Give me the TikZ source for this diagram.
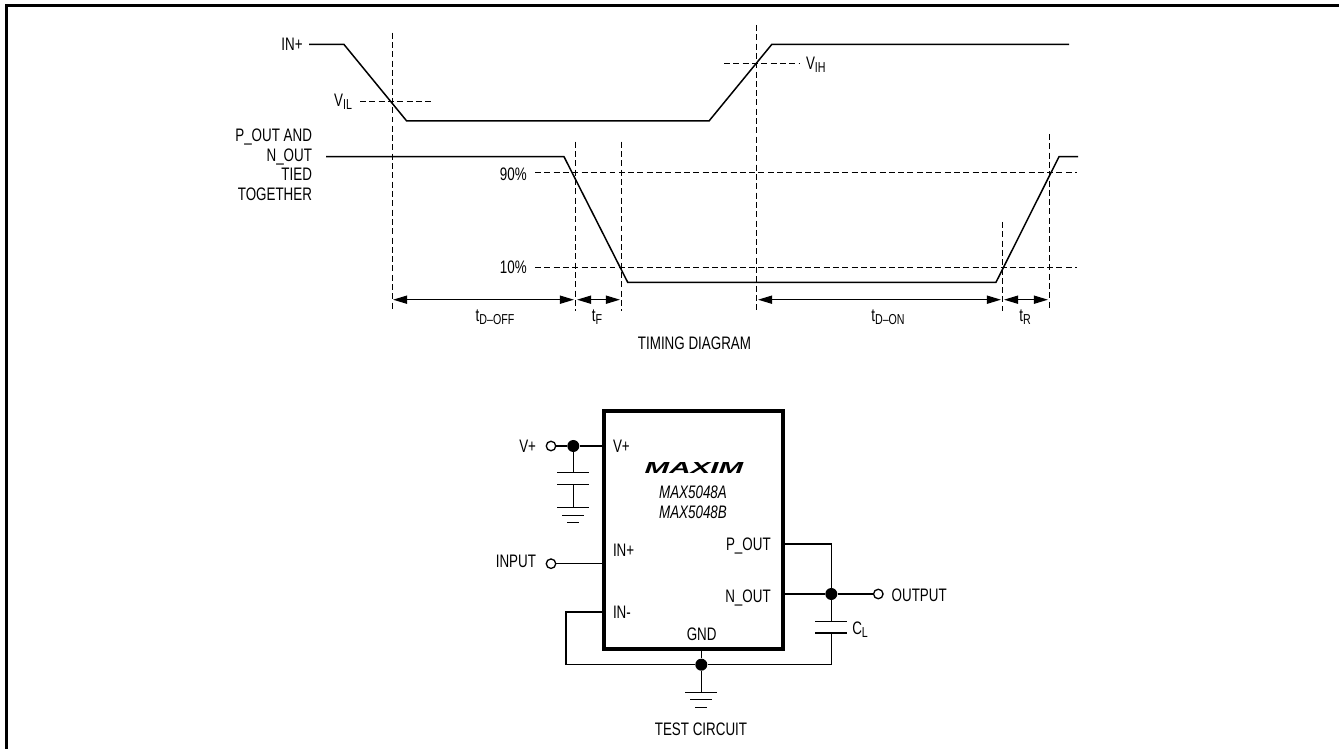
\documentclass[tikz,border=0pt]{standalone}
\usepackage{fontspec}
\setmainfont[FakeStretch=0.74]{Liberation Sans}
\newfontfamily\logofont{Liberation Sans}
\usetikzlibrary{arrows.meta}

\newcommand{\lowtext}[1]{\raisebox{-0.3ex}{\fontsize{8.2}{9}\selectfont #1}}

\tikzset{
	wave/.style={draw=black, line width=0.85pt, line join=miter},
	wire/.style={draw=black, line width=0.75pt},
	guide/.style={draw=black, line width=0.5pt, dash pattern=on 3.4pt off 1.9pt},
	dimline/.style={draw=black, line width=0.75pt, {Triangle[length=8pt,width=4.6pt]}-{Triangle[length=8pt,width=4.6pt]}},
	lbl/.style={inner sep=0pt, outer sep=0pt, text=black, font=\fontsize{10.3}{11}\selectfont, text height=7.3pt, text depth=0pt},
	terminal/.style={circle, draw=black, fill=white, line width=0.75pt, inner sep=0pt, minimum size=0.19cm},
	junction/.style={circle, fill=black, inner sep=0pt, minimum size=0.24cm}
}

\begin{document}
\begin{tikzpicture}[x=0.02cm, y=-0.02cm]
	\useasboundingbox (0,0) rectangle (1339,749);
	\draw[draw=black, line width=1.2pt] (6.5,749) -- (6.5,5.5) -- (1339,5.5);

	\draw[guide] (392,32.7) -- (392,310.7);
	\draw[guide] (575,141.7) -- (575,310.7);
	\draw[guide] (621.3,141.7) -- (621.3,310.7);
	\draw[guide] (756.7,25) -- (756.7,310.7);
	\draw[guide] (1002.3,222) -- (1002.3,310.7);
	\draw[guide] (1049.3,134) -- (1049.3,310.7);
	\draw[guide] (360,101) -- (434,101);
	\draw[guide] (724,63.7) -- (799,63.7);
	\draw[guide] (535,172.7) -- (1076.7,172.7);
	\draw[guide] (535,267) -- (1076.7,267);

	\draw[wave] (309,44.5) -- (344,44.5) -- (406.7,121) -- (709,121) -- (771.7,44.5) -- (1069,44.5);
	\draw[wave] (326,156.7) -- (564,156.7) -- (627.7,282.3) -- (996,282.3) -- (1059,156.7) -- (1078,156.7);

	\coordinate (doffa) at (393,299.7);
	\coordinate (doffb) at (574,299.7);
	\coordinate (falla) at (577,299.7);
	\coordinate (fallb) at (620,299.7);
	\coordinate (dona) at (758,299.7);
	\coordinate (donb) at (1001,299.7);
	\coordinate (risea) at (1004,299.7);
	\coordinate (riseb) at (1048,299.7);
	\draw[dimline] (doffa) -- (doffb);
	\draw[dimline] (falla) -- (fallb);
	\draw[dimline] (dona) -- (donb);
	\draw[dimline] (risea) -- (riseb);

	\node[lbl, anchor=east] (inplus) at (302.7,44) {IN+};
	\node[lbl, anchor=east] (vil) at (352,100) {V\lowtext{IL}};
	\node[lbl, anchor=west] (vih) at (806,63) {V\lowtext{IH}};
	\node[lbl, anchor=east] (outa) at (312,135) {P\_OUT AND};
	\node[lbl, anchor=east] (outb) at (312,155) {N\_OUT};
	\node[lbl, anchor=east] (outc) at (312,174) {TIED};
	\node[lbl, anchor=east] (outd) at (312,194) {TOGETHER};
	\node[lbl, anchor=east] (ninety) at (526.7,174) {90\%};
	\node[lbl, anchor=east] (ten) at (526.7,266.7) {10\%};
	\node[lbl] (tdoff) at (495,315) {t\lowtext{D--OFF}};
	\node[lbl] (tfall) at (597,315) {t\lowtext{F}};
	\node[lbl] (tdon) at (888,315) {t\lowtext{D--ON}};
	\node[lbl] (trise) at (1025,315) {t\lowtext{R}};
	\node[lbl] (timing) at (694.5,343) {TIMING DIAGRAM};

	\node[draw=black, line width=2.2pt, outer sep=0pt, inner sep=0pt, minimum width=3.574cm, minimum height=4.76cm] (ic) at (693.35,529.7) {};
	\node[inner sep=0pt, text=black, font=\logofont\bfseries\itshape\fontsize{9.1}{10}\selectfont] (logo) at (694,468.5) {\scalebox{1.85}[1]{MAXIM}};
	\node[lbl, font=\itshape\fontsize{10.3}{11}\selectfont] (parta) at (693,492) {MAX5048A};
	\node[lbl, font=\itshape\fontsize{10.3}{11}\selectfont] (partb) at (693,511.7) {MAX5048B};
	\node[lbl, anchor=west] (pinv) at (613,446.5) {V+};
	\node[lbl, anchor=west] (pinin) at (613,550) {IN+};
	\node[lbl, anchor=west] (pinneg) at (613,611.7) {IN-};
	\node[lbl] (pingnd) at (701.7,634) {GND};
	\node[lbl, anchor=east] (pinp) at (770.7,544) {P\_OUT};
	\node[lbl, anchor=east] (pinn) at (770.7,595.7) {N\_OUT};

	\node[terminal] (vterm) at (551,446) {};
	\node[terminal] (interm) at (551,563.7) {};
	\node[terminal] (outterm) at (878.3,594) {};
	\node[junction] (vdot) at (573.3,446) {};
	\node[junction] (outdot) at (831.3,594) {};
	\node[junction] (gnddot) at (701.3,664.7) {};
	\node[lbl, anchor=east] (vlabel) at (536,446) {V+};
	\node[lbl, anchor=east] (inlabel) at (536,561) {INPUT};
	\node[lbl, anchor=west] (outlabel) at (891.7,595) {OUTPUT};
	\node[lbl, anchor=west] (cload) at (852.3,628) {C\lowtext{L}};
	\node[lbl] (testc) at (701,729) {TEST CIRCUIT};

	\coordinate (captop) at (573.3,472.7);
	\coordinate (capbot) at (573.3,484.7);
	\coordinate (vgnd) at (573.3,507.7);
	\coordinate (ctop) at (831.3,621.3);
	\coordinate (cbot) at (831.3,633);
	\coordinate (mgnd) at (701.3,692.3);
	\coordinate (poutcorner) at (831.3,544);
	\coordinate (cloadcorner) at (831.3,664.7);
	\coordinate (negx) at (566,612);
	\coordinate (negy) at (566,664.7);

	\draw[wire] (vterm) -- (vdot) -- (ic.west |- vdot);
	\draw[wire] (vdot) -- (captop);
	\draw[wire] (capbot) -- (vgnd);
	\draw[wire] (captop) ++(-16,0) -- ++(32,0);
	\draw[wire] (capbot) ++(-16,0) -- ++(32,0);
	\draw[wire] (vgnd) ++(-16,0) -- ++(32,0);
	\draw[wire] (vgnd) ++(-11,7.5) -- ++(22,0);
	\draw[wire] (vgnd) ++(-6,15) -- ++(12,0);
	\draw[wire] (interm) -- (ic.west |- interm);
	\draw[wire] (ic.west |- negx) -- (negx) -- (negy) -- (gnddot);
	\draw[wire] (ic.east |- poutcorner) -- (poutcorner) -- (outdot);
	\draw[wire] (ic.east |- outdot) -- (outdot) -- (outterm);
	\draw[wire] (outdot) -- (ctop);
	\draw[wire] (cbot) -- (cloadcorner) -- (gnddot);
	\draw[wire] (ctop) ++(-16,0) -- ++(32,0);
	\draw[wire] (cbot) ++(-16,0) -- ++(32,0);
	\draw[wire] (ic.south -| gnddot) -- (gnddot) -- (mgnd);
	\draw[wire] (mgnd) ++(-16,0) -- ++(32,0);
	\draw[wire] (mgnd) ++(-11,7.5) -- ++(22,0);
	\draw[wire] (mgnd) ++(-6,15) -- ++(12,0);
\end{tikzpicture}
\end{document}
